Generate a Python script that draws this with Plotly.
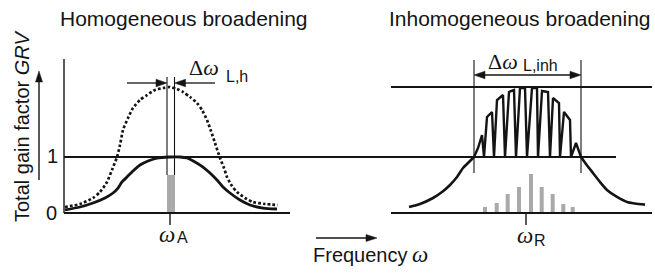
import plotly.graph_objects as go

# ---------------- data (frequency in arbitrary units, gain relative to threshold = 1) -------------
# Homogeneous broadening: small-signal gain (dotted)
hom_freq_small = [65, 80, 93, 100, 107, 112, 117, 120, 123, 128, 133, 140, 147, 155, 163, 170,
                  177, 183, 190, 197, 202, 207, 211, 215, 220, 224, 227, 232, 237, 245, 253, 265, 278]
hom_gain_small = [0.107, 0.16, 0.268, 0.375, 0.554, 0.768, 1.0, 1.214, 1.482, 1.696, 1.875, 2.018,
                  2.107, 2.196, 2.232, 2.25, 2.214, 2.161, 2.071, 1.964, 1.839, 1.661, 1.464, 1.25,
                  0.982, 0.804, 0.643, 0.482, 0.375, 0.268, 0.196, 0.161, 0.143]
# Homogeneous broadening: saturated gain (solid)
hom_freq_sat = [65, 80, 93, 105, 113, 118, 122, 127, 133, 140, 148, 157, 170, 180, 187, 195,
                203, 210, 217, 223, 230, 240, 250, 263, 277]
hom_gain_sat = [0.054, 0.107, 0.179, 0.268, 0.357, 0.446, 0.554, 0.643, 0.75, 0.857, 0.929,
                0.982, 1.0, 1.0, 0.982, 0.911, 0.821, 0.714, 0.589, 0.464, 0.357, 0.232, 0.143,
                0.089, 0.071]
hom_mode_freq = [171]
hom_mode_int = [0.68]

# Inhomogeneous broadening: gain wings and spectral-hole comb
inh_left_freq = [409, 420, 433, 442, 450, 457, 463, 469, 474]
inh_left_gain = [0.107, 0.161, 0.268, 0.375, 0.5, 0.643, 0.804, 0.911, 1.0]
inh_comb_freq = [474, 478, 482, 484, 487, 492, 494, 497, 503, 505, 509, 514, 516, 520, 525, 527,
                 532, 537, 538, 542, 548, 550, 553, 559, 560, 564, 570, 571, 576, 581]
inh_comb_gain = [1.0, 1.161, 1.393, 1.0, 1.714, 1.804, 1.0, 2.018, 2.107, 1.0, 2.161, 2.196, 1.0,
                 2.232, 2.232, 1.0, 2.232, 2.232, 1.0, 2.179, 2.161, 1.0, 2.054, 1.964, 1.0,
                 1.804, 1.661, 1.0, 1.25, 1.0]
inh_right_freq = [581, 586, 593, 600, 607, 617, 627, 635, 645]
inh_right_gain = [1.0, 0.875, 0.714, 0.554, 0.411, 0.286, 0.196, 0.17, 0.15]
inh_mode_freq = [485, 496.7, 507.7, 519, 531, 541.7, 552.7, 563.3, 572.7]
inh_mode_int = [0.107, 0.179, 0.339, 0.464, 0.696, 0.464, 0.339, 0.161, 0.107]

threshold = 1.0
inh_top = 2.25

# ---------------- figure ----------------
W, H = 655, 278
Y0, SC = 213.0, 56.0  # pixel row of zero gain, pixels per gain unit


def gy(py):
    return (Y0 - py) / SC


BLACK = "#141414"
GRAY = "#a9a9a9"
SANS = "Liberation Sans, Arial, sans-serif"
SERIF = "Liberation Serif, Times New Roman, serif"

fig = go.Figure()

fig.add_trace(go.Bar(x=hom_mode_freq, y=hom_mode_int, width=8, marker=dict(color=GRAY, line_width=0)))
fig.add_trace(go.Bar(x=inh_mode_freq, y=inh_mode_int, width=4, marker=dict(color=GRAY, line_width=0)))

fig.add_trace(go.Scatter(x=hom_freq_small, y=hom_gain_small, mode="lines",
                         line=dict(color=BLACK, width=2.7, dash="2.7px,2.2px", shape="spline", smoothing=0.6)))
fig.add_trace(go.Scatter(x=hom_freq_sat, y=hom_gain_sat, mode="lines",
                         line=dict(color=BLACK, width=2.8, shape="spline", smoothing=0.6)))
fig.add_trace(go.Scatter(x=inh_left_freq, y=inh_left_gain, mode="lines",
                         line=dict(color=BLACK, width=2.6, shape="spline", smoothing=0.6)))
fig.add_trace(go.Scatter(x=inh_right_freq, y=inh_right_gain, mode="lines",
                         line=dict(color=BLACK, width=2.6, shape="spline", smoothing=0.6)))
fig.add_trace(go.Scatter(x=inh_comb_freq, y=inh_comb_gain, mode="lines",
                         line=dict(color=BLACK, width=2.4)))

shapes = []


def line(x0, y0, x1, y1, w=2.0):
    shapes.append(dict(type="line", xref="x", yref="y", x0=x0, y0=gy(y0), x1=x1, y1=gy(y1),
                       line=dict(color=BLACK, width=w), layer="above"))


def head(tx, ty, dx, dy, length=11, half=3.8):
    # tip at (tx,ty) pixel, direction (dx,dy) unit vector pointing toward the tip
    bx, by = tx - dx * length, ty - dy * length
    px_, py_ = -dy, dx
    p1 = (bx + px_ * half, by + py_ * half)
    p2 = (bx - px_ * half, by - py_ * half)
    path = f"M {tx} {gy(ty)} L {p1[0]} {gy(p1[1])} L {p2[0]} {gy(p2[1])} Z"
    shapes.append(dict(type="path", xref="x", yref="y", path=path, fillcolor=BLACK,
                       line=dict(color=BLACK, width=0.5), layer="above"))


# axes / reference lines
line(64, 59, 64, 213, 1.4)
line(64, 213, 290, 213, 2.0)
line(391, 213, 652, 213, 1.8)
line(64, 157, 616, 157, 2.2)
line(391, 87, 652, 87, 1.8)
# ticks
line(170, 213, 170, 225, 1.4)
line(526, 213, 526, 225, 1.4)
# homogeneous linewidth markers
line(167, 77, 167, 175, 1.1)
line(174.5, 77, 174.5, 175, 1.1)
line(127, 83, 158, 83, 1.3)
head(167, 83, 1, 0)
line(183, 83, 215, 83, 1.3)
head(174.5, 83, -1, 0)
# inhomogeneous linewidth markers
line(474, 60, 474, 173, 1.1)
line(581, 60, 581, 173, 1.1)
line(484, 75, 571, 75, 1.3)
head(474, 75, -1, 0)
head(581, 75, 1, 0)
# y-axis arrow
line(39, 180, 39, 80, 1.4)
head(39, 71, 0, -1, length=11, half=3.5)
# frequency arrow
line(316, 238, 368, 238, 1.4)
head(377, 238, 1, 0, length=11, half=3.5)

ann = []


def text(x, y, s, size, family=SANS, xanchor="center", angle=0):
    ann.append(dict(x=x / W, y=1 - y / H, xref="paper", yref="paper", text=s, showarrow=False,
                    xanchor=xanchor, yanchor="middle", textangle=angle,
                    font=dict(family=family, size=size, color=BLACK)))


text(184, 18, "Homogeneous broadening", 21)
text(520, 18, "Inhomogeneous broadening", 21)
text(22, 127, "Total gain factor <i>GRV</i>", 20, angle=-90)
text(52, 156, "1", 20)
text(51, 213, "0", 20)
text(167, 234, "<i>ω</i>", 23, family=SERIF)
text(182, 237, "A", 16)
text(525, 235, "<i>ω</i>", 23, family=SERIF)
text(540, 240, "R", 16)
text(204, 67, "Δ<i>ω</i>", 22, family=SERIF)
text(224, 76, "L,h", 16, xanchor="left")
text(503, 62, "Δ<i>ω</i>", 22, family=SERIF)
text(521, 66, "L,inh", 16, xanchor="left")
text(311, 255, "Frequency", 20, xanchor="left")
text(420, 254, "<i>ω</i>", 23, family=SERIF)

fig.update_layout(
    width=W, height=H, margin=dict(l=0, r=0, t=0, b=0),
    paper_bgcolor="white", plot_bgcolor="white", showlegend=False,
    barmode="overlay", shapes=shapes, annotations=ann,
    xaxis=dict(range=[0, W], visible=False, fixedrange=True),
    yaxis=dict(range=[gy(H), gy(0)], visible=False, fixedrange=True),
)

fig.write_html("out.html", config={"displayModeBar": False},
               post_script="document.body.style.margin='0';document.body.style.padding='0';")
